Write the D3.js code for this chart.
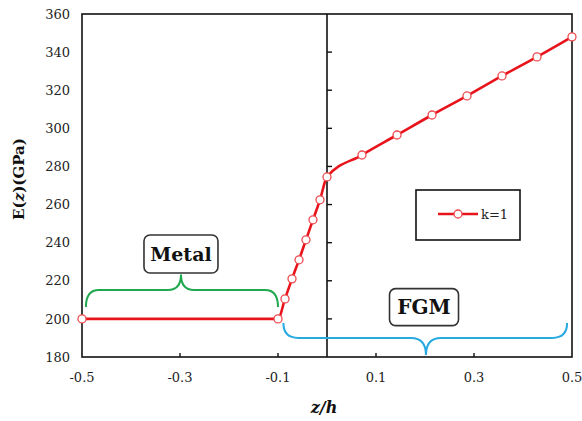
<!DOCTYPE html>
<html>
<head>
<meta charset="utf-8">
<script src="https://cdn.jsdelivr.net/npm/d3@7"></script>
<style>
  html, body { margin: 0; padding: 0; background: #fff; }
  svg { display: block; }
</style>
</head>
<body>
<div id="chart"></div>
<script>
// ---- data ----
const zValues = [-0.5, -0.1, -0.0857, -0.0714, -0.0571, -0.0429, -0.0286, -0.0143, 0,
                 0.0714, 0.1429, 0.2143, 0.2857, 0.3571, 0.4286, 0.5];
const eValues = [200, 200, 210.5, 221, 231, 241.5, 252, 262.5, 274.5,
                 286, 296.5, 307, 317, 327.5, 337.5, 348];
const seriesName = "k=1";
const xTickValues = [-0.5, -0.3, -0.1, 0.1, 0.3, 0.5];
const yTickValues = [180, 200, 220, 240, 260, 280, 300, 320, 340, 360];
const xDomain = [-0.5, 0.5];
const yDomain = [180, 360];
const regionLabels = ["Metal", "FGM"];

// ---- layout ----
const W = 582, H = 421;
const margin = { left: 82, top: 14, right: 10, bottom: 64 };
const pw = W - margin.left - margin.right;   // 490
const ph = H - margin.top - margin.bottom;   // 343
const SERIF = "'DejaVu Serif', 'Liberation Serif', 'Times New Roman', serif";

const svg = d3.select("#chart").append("svg").attr("width", W).attr("height", H)
  .attr("font-family", SERIF).style("font-family", SERIF);
const g = svg.append("g").attr("transform", `translate(${margin.left},${margin.top})`);

const x = d3.scaleLinear().domain(xDomain).range([0, pw]);
const y = d3.scaleLinear().domain(yDomain).range([ph, 0]);

// plot frame
g.append("rect").attr("x", 0).attr("y", 0).attr("width", pw).attr("height", ph)
  .attr("fill", "none").attr("stroke", "#111").attr("stroke-width", 1.6);

// vertical axis line at z = 0 with inside ticks
g.append("line").attr("x1", x(0)).attr("x2", x(0)).attr("y1", 0).attr("y2", ph)
  .attr("stroke", "#111").attr("stroke-width", 1.6);
g.selectAll(".ytick").data(yTickValues.slice(1, -1)).enter().append("line")
  .attr("x1", x(0)).attr("x2", x(0) + 5)
  .attr("y1", d => y(d)).attr("y2", d => y(d))
  .attr("stroke", "#111").attr("stroke-width", 1.4);

// x ticks (inside, bottom)
g.selectAll(".xtick").data(xTickValues.slice(1, -1)).enter().append("line")
  .attr("x1", d => x(d)).attr("x2", d => x(d))
  .attr("y1", ph).attr("y2", ph - 4)
  .attr("stroke", "#111").attr("stroke-width", 1.4);

// y tick labels
g.selectAll(".ylab").data(yTickValues).enter().append("text")
  .attr("x", -12).attr("y", d => y(d)).attr("dy", "0.36em")
  .attr("text-anchor", "end").attr("font-size", 13).attr("fill", "#222")
  .style("font-family", SERIF)
  .text(d => d);

// x tick labels
g.selectAll(".xlab").data(xTickValues).enter().append("text")
  .attr("x", d => x(d)).attr("y", ph + 25)
  .attr("text-anchor", "middle").attr("font-size", 13).attr("fill", "#222")
  .style("font-family", SERIF)
  .text(d => d.toFixed(1));

// axis titles
const yt = svg.append("text")
  .attr("transform", "translate(24,179) rotate(-90)")
  .attr("text-anchor", "middle").attr("font-size", 15).attr("font-weight", "bold").attr("fill", "#111")
  .style("font-family", SERIF);
yt.append("tspan").text("E(");
yt.append("tspan").attr("font-style", "italic").text("z");
yt.append("tspan").text(")(GPa)");

svg.append("text").attr("x", 324).attr("y", 413)
  .attr("text-anchor", "middle").attr("font-size", 16)
  .attr("font-weight", "bold").attr("font-style", "italic").attr("fill", "#111")
  .style("font-family", SERIF)
  .text("z/h");

// ---- braces (annotation, data coords) ----
function bracePath(x1, x2, xm, yEnd, yFlat, yTip, r) {
  const X1 = x(x1), X2 = x(x2), XM = x(xm);
  const YE = y(yEnd), YF = y(yFlat), YT = y(yTip);
  return `M${X1},${YE} Q${X1},${YF} ${X1 + r},${YF} L${XM - r},${YF} Q${XM},${YF} ${XM},${YT}` +
         ` Q${XM},${YF} ${XM + r},${YF} L${X2 - r},${YF} Q${X2},${YF} ${X2},${YE}`;
}
g.append("path").attr("d", bracePath(-0.492, -0.1, -0.298, 206.3, 215.2, 223.3, 13))
  .attr("fill", "none").attr("stroke", "#1fa84f").attr("stroke-width", 2);
g.append("path").attr("d", bracePath(-0.089, 0.49, 0.202, 197.8, 190, 181, 15))
  .attr("fill", "none").attr("stroke", "#27a9e1").attr("stroke-width", 2);

// region label boxes
function labelBox(cx, cy, w, h, txt, fs) {
  g.append("rect").attr("x", cx - w / 2).attr("y", cy - h / 2).attr("width", w).attr("height", h)
    .attr("rx", 6).attr("fill", "#fff").attr("stroke", "#333").attr("stroke-width", 1.6);
  g.append("text").attr("x", cx).attr("y", cy).attr("dy", "0.35em")
    .attr("text-anchor", "middle").attr("font-size", fs).attr("font-weight", "bold").attr("fill", "#111")
    .style("font-family", SERIF)
    .text(txt);
}
labelBox(x(-0.298), y(222.5) - 22 , 74, 38, regionLabels[0], 19);
labelBox(x(0.198), y(181) - 48, 69, 37, regionLabels[1], 20);

// ---- series ----
const pts = zValues.map((z, i) => [z, eValues[i]]);
const line = d3.line().x(d => x(d[0])).y(d => y(d[1])).curve(d3.curveMonotoneX);
g.append("path").datum(pts).attr("d", line)
  .attr("fill", "none").attr("stroke", "#e8141c").attr("stroke-width", 2.6);
g.selectAll(".pt").data(pts).enter().append("circle")
  .attr("cx", d => x(d[0])).attr("cy", d => y(d[1])).attr("r", 4)
  .attr("fill", "#fff").attr("stroke", "#ee4a4f").attr("stroke-width", 1.3);

// ---- legend ----
const lg = svg.append("g").attr("transform", "translate(416,190)");
lg.append("rect").attr("width", 104).attr("height", 50)
  .attr("fill", "#fff").attr("stroke", "#111").attr("stroke-width", 1.6);
lg.append("line").attr("x1", 22).attr("x2", 62).attr("y1", 24).attr("y2", 24)
  .attr("stroke", "#e8141c").attr("stroke-width", 2.6);
lg.append("circle").attr("cx", 42).attr("cy", 24).attr("r", 4)
  .attr("fill", "#fff").attr("stroke", "#ee4a4f").attr("stroke-width", 1.3);
lg.append("text").attr("x", 65).attr("y", 24).attr("dy", "0.35em")
  .attr("font-size", 13).attr("fill", "#222").style("font-family", SERIF).text(seriesName);
</script>
</body>
</html>
